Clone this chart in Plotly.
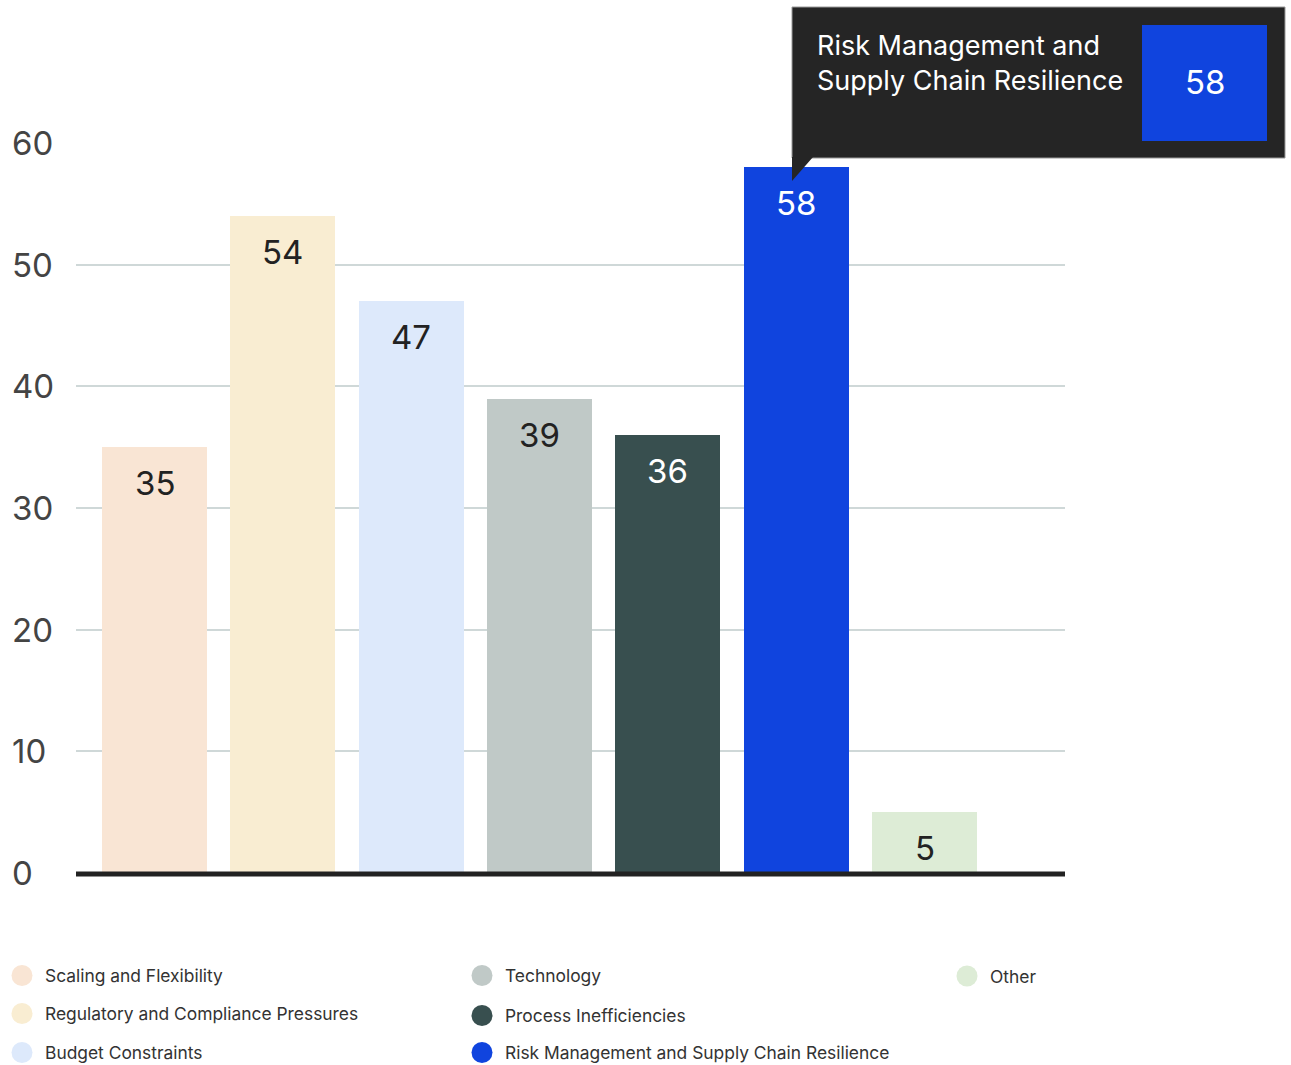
import plotly.graph_objects as go

# Survey results: share of respondents citing each driver
categories = [
    "Scaling and Flexibility",
    "Regulatory and Compliance Pressures",
    "Budget Constraints",
    "Technology",
    "Process Inefficiencies",
    "Risk Management and Supply Chain Resilience",
    "Other",
]
values = [35, 54, 47, 39, 36, 58, 5]
bar_colors = ["#F9E5D4", "#F9EDD2", "#DDE9FB", "#C0C9C7", "#384F4F", "#1044DE", "#DDECD6"]
label_colors = ["#222222", "#222222", "#222222", "#222222", "#FFFFFF", "#FFFFFF", "#222222"]
y_ticks = [0, 10, 20, 30, 40, 50, 60]
highlight_index = 5

W, H = 1291, 1065
L, R, T, B = 76, 1065, 143, 873  # plot area in pixels
FONT = "Inter, Roboto, sans-serif"


def px_x(x):
    return (x - L) / (R - L)


def px_y(y):
    return (B - y) / (B - T)


fig = go.Figure()
fig.add_trace(go.Bar(
    x=list(range(len(categories))),
    y=values,
    width=0.818,
    marker=dict(color=bar_colors, line=dict(width=0)),
    hoverinfo="skip",
    showlegend=False,
))

annotations = []
shapes = []

# value labels inside the top of each bar
for i, (v, c) in enumerate(zip(values, label_colors)):
    annotations.append(dict(
        x=i, y=v, xref="x", yref="y", text=str(v), showarrow=False,
        yanchor="middle", yshift=-36,
        font=dict(family=FONT, size=33, color=c),
    ))

# left-aligned y tick labels
for t in y_ticks:
    annotations.append(dict(
        x=px_x(10), y=t, xref="paper", yref="y", text=str(t), showarrow=False,
        xanchor="left", yanchor="middle",
        font=dict(family=FONT, size=33, color="#444444"),
    ))

# heavy baseline
shapes.append(dict(type="line", xref="paper", yref="paper", x0=0, x1=1,
                   y0=px_y(874), y1=px_y(874),
                   line=dict(color="#222222", width=5), layer="above"))

# tooltip callout for the highlighted bar
shapes.append(dict(type="rect", xref="paper", yref="paper",
                   x0=px_x(792), x1=px_x(1285), y0=px_y(158), y1=px_y(7),
                   fillcolor="#252525", line=dict(color="#9A9A9A", width=1), layer="above"))
shapes.append(dict(type="path", xref="paper", yref="paper",
                   path=f"M {px_x(792)} {px_y(157)} L {px_x(813)} {px_y(157)} L {px_x(792)} {px_y(181)} Z",
                   fillcolor="#252525", line=dict(width=0), layer="above"))
shapes.append(dict(type="rect", xref="paper", yref="paper",
                   x0=px_x(1142), x1=px_x(1267), y0=px_y(141), y1=px_y(25),
                   fillcolor=bar_colors[highlight_index], line=dict(width=0), layer="above"))
annotations.append(dict(
    x=px_x(815), y=px_y(63), xref="paper", yref="paper",
    text="Risk Management and<br>Supply Chain Resilience", showarrow=False,
    xanchor="left", yanchor="middle", align="left",
    font=dict(family=FONT, size=27, color="#FFFFFF"),
))
annotations.append(dict(
    x=px_x(1204.5), y=px_y(82), xref="paper", yref="paper",
    text=str(values[highlight_index]), showarrow=False,
    xanchor="center", yanchor="middle",
    font=dict(family=FONT, size=33, color="#FFFFFF"),
))

# custom three-column legend
legend_layout = [
    (22, 975.5), (22, 1013.5), (22, 1052.5),
    (482, 975.5), (482, 1015.5), (482, 1052.5),
    (967, 976),
]
r = 10.5
for (cx, cy), name, col in zip(legend_layout, categories, bar_colors):
    shapes.append(dict(type="circle", xref="paper", yref="paper",
                       x0=px_x(cx - r), x1=px_x(cx + r), y0=px_y(cy + r), y1=px_y(cy - r),
                       fillcolor=col, line=dict(width=0)))
    annotations.append(dict(
        x=px_x(cx + 21), y=px_y(cy), xref="paper", yref="paper", text=name,
        showarrow=False, xanchor="left", yanchor="middle",
        font=dict(family=FONT, size=17.4, color="#333333"),
    ))

fig.update_layout(
    width=W, height=H,
    margin=dict(l=L, r=W - R, t=T, b=H - B, pad=0),
    paper_bgcolor="#FFFFFF", plot_bgcolor="#FFFFFF",
    xaxis=dict(range=[-0.6117, 7.0948], visible=False, fixedrange=True),
    yaxis=dict(range=[0, 60], tickvals=y_ticks, showticklabels=False,
               showgrid=True, gridcolor="#CFD8D8", gridwidth=2,
               zeroline=False, showline=False, fixedrange=True),
    annotations=annotations,
    shapes=shapes,
    bargap=0,
    showlegend=False,
)

fig.write_html("out.html", config=dict(displayModeBar=False))
